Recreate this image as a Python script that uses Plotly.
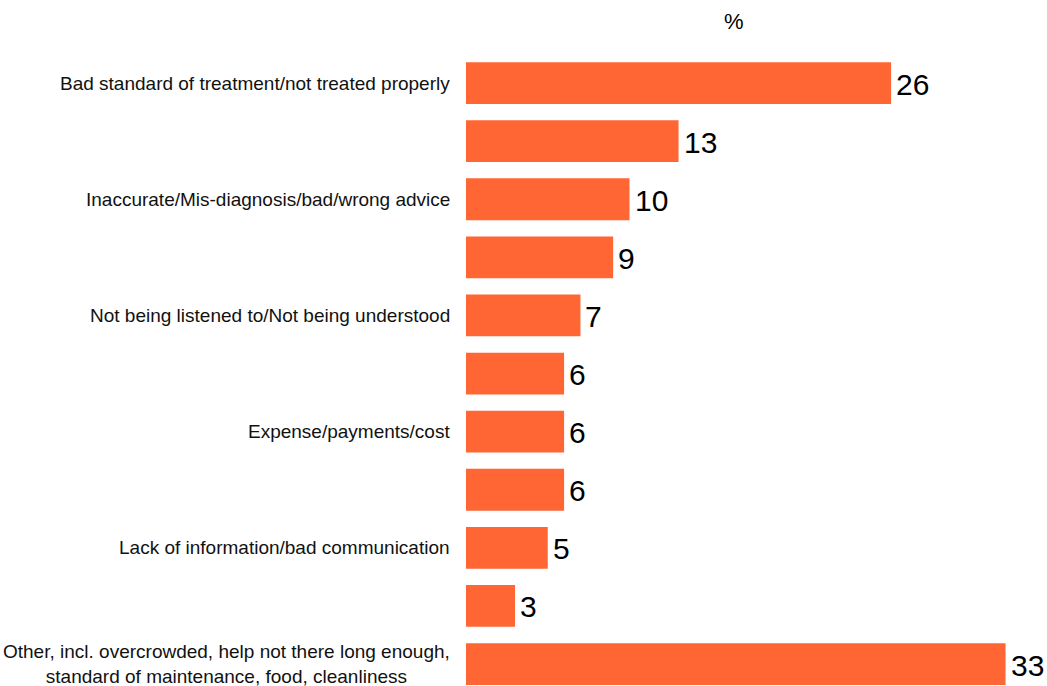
import plotly.graph_objects as go

# Reasons for dissatisfaction (only alternate rows carry a printed label)
reasons = [
    "Bad standard of treatment/not treated properly",
    "",
    "Inaccurate/Mis-diagnosis/bad/wrong advice",
    "",
    "Not being listened to/Not being understood",
    "",
    "Expense/payments/cost",
    "",
    "Lack of information/bad communication",
    "",
    "Other, incl. overcrowded, help not there long enough,<br>standard of maintenance, food, cleanliness",
]
percent = [26, 13, 10, 9, 7, 6, 6, 6, 5, 3, 33]
unit_label = "%"

BAR_COLOR = "#FF6633"
FONT = "Arial, Liberation Sans, sans-serif"

W, H = 1047, 686
ML, MT = 466, 54
plot_w = W - ML
plot_h = H - MT
px_per_unit = 16.35
row_px = 58.1

rows = list(range(len(percent)))

fig = go.Figure(
    go.Bar(
        x=percent,
        y=rows,
        orientation="h",
        marker=dict(color=BAR_COLOR, line=dict(width=0)),
        width=0.72,
        hoverinfo="skip",
    )
)

annotations = []
for i, (lab, v) in enumerate(zip(reasons, percent)):
    if lab:
        annotations.append(dict(
            x=0, y=i, xref="x", yref="y", text=lab, showarrow=False,
            xanchor="right", yanchor="middle", align="center", xshift=-15,
            borderpad=0, font=dict(family=FONT, size=19, color="#111111"),
        ))
    annotations.append(dict(
        x=v, y=i, xref="x", yref="y", text=str(v), showarrow=False,
        xanchor="left", yanchor="middle", xshift=4, yshift=-1,
        borderpad=0, font=dict(family=FONT, size=30, color="#000000"),
    ))

annotations.append(dict(
    x=(734 - ML) / plot_w, y=1 + (MT - 22) / plot_h, xref="paper", yref="paper",
    text=unit_label, showarrow=False, xanchor="center", yanchor="middle",
    font=dict(family=FONT, size=22, color="#000000"),
))

fig.update_layout(
    width=W, height=H,
    margin=dict(l=ML, r=0, t=MT, b=0, pad=0),
    paper_bgcolor="white", plot_bgcolor="white",
    showlegend=False,
    annotations=annotations,
    xaxis=dict(range=[0, plot_w / px_per_unit], visible=False, fixedrange=True),
    yaxis=dict(range=[-0.5 + plot_h / row_px, -0.5], visible=False, fixedrange=True),
)

fig.write_html("out.html", config={"displayModeBar": False})
